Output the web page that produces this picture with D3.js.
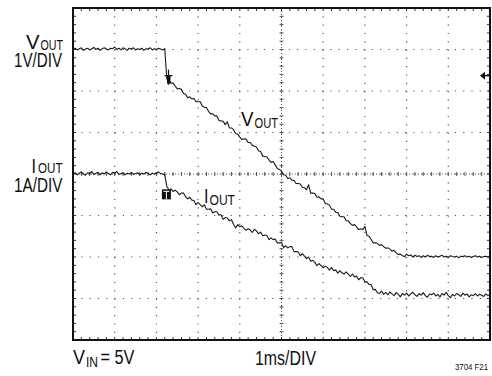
<!DOCTYPE html>
<html>
<head>
<meta charset="utf-8">
<script src="https://cdn.jsdelivr.net/npm/d3@7"></script>
<style>
  html, body { margin: 0; padding: 0; background: #fff; }
  svg { display: block; }
  text { font-family: "Liberation Sans", Arial, sans-serif; fill: #111; }
</style>
</head>
<body>
<svg id="scope" width="492" height="376"></svg>
<script>
// ---- scope settings ----
const timeDivisions = 10;        // 1ms/DIV
const verticalDivisions = 8;
const sampleStepMs = 0.05;       // record interval of both traces
const voltZeroDiv = 2;           // VOUT ground reference (division from bottom)
const ampZeroDiv = 1;            // IOUT ground reference (division from bottom)
const triggerLevelVolts = 4.37;  // level marker on right edge

// ---- VOUT record (V), one sample every 0.05ms from 0 to 10ms ----
const voutVolts = [
  // 0.00 - 2.20ms
  5.00,5.03,4.99,5.02,5.04,4.98,5.01,5.03,4.99,5.02,5.05,5.00,5.03,4.98,5.02,5.04,5.01,4.99,5.03,5.02,
  5.06,5.00,5.03,4.99,5.04,5.02,4.98,5.03,5.01,5.04,4.99,5.02,5.00,5.03,4.98,5.02,5.01,5.04,4.99,5.02,
  5.00,5.03,5.01,4.99,5.02,
  // 2.25ms
  4.29,
  // 2.30 - 7.90ms
  4.26,4.19,4.19,4.12,4.05,4.06,4.04,3.94,3.92,3.84,
  3.86,3.81,3.82,3.74,3.74,3.74,3.64,3.61,3.60,3.51,
  3.45,3.45,3.40,3.40,3.29,3.28,3.27,3.19,3.26,3.11,
  3.11,3.07,2.97,2.96,2.89,2.83,2.85,2.84,2.76,2.76,
  2.69,2.67,2.65,2.56,2.54,2.43,2.42,2.41,2.34,2.28,
  2.30,2.22,2.13,2.11,2.07,1.98,1.97,1.89,1.91,1.85,
  1.85,1.77,1.77,1.76,1.68,1.67,1.62,1.74,1.54,1.54,
  1.53,1.44,1.45,1.40,1.40,1.29,1.28,1.25,1.15,1.15,
  1.08,1.07,0.98,0.97,0.97,0.88,0.87,0.81,0.76,0.78,
  0.73,0.66,0.68,0.66,0.74,0.52,0.50,0.42,0.34,0.34,
  0.33,0.28,0.30,0.25,0.21,0.22,0.19,0.14,0.16,0.10,
  0.06,0.07,0.03,
  // 7.95 - 10.00ms
  0.01,0.07,0.03,0.05,0.00,0.04,0.01,0.03,-0.01,0.03,0.00,0.04,0.01,0.02,-0.01,0.03,0.00,0.02,0.04,0.00,
  0.02,-0.01,0.03,0.01,0.00,0.02,-0.02,0.02,0.01,0.03,0.00,0.02,-0.01,0.01,0.03,0.00,0.02,-0.01,0.01,0.02,
  0.00,0.01
];

// ---- IOUT record (A), one sample every 0.05ms from 0 to 10ms ----
const ioutAmps = [
  // 0.00 - 2.15ms
  3.00,3.03,2.98,3.02,3.05,3.00,2.97,3.03,3.01,3.06,2.99,3.02,3.04,2.98,3.03,3.00,3.05,3.01,2.98,3.04,
  3.02,3.06,2.99,3.01,3.03,2.98,3.02,3.00,3.04,2.99,3.01,3.03,2.98,3.02,3.00,3.04,3.01,2.98,3.02,3.00,
  3.03,3.05,3.01,3.00,
  // 2.20 - 2.35ms
  2.98,2.70,2.62,2.64,
  // 2.40 - 7.30ms
  2.58,2.61,2.57,2.50,2.54,2.54,2.45,2.40,2.44,2.37,
  2.36,2.26,2.31,2.26,2.21,2.26,2.15,2.15,2.16,2.06,
  2.09,2.09,2.01,2.02,1.91,1.95,1.94,1.87,1.90,1.79,
  1.70,1.78,1.73,1.75,1.69,1.64,1.68,1.65,1.59,1.67,
  1.63,1.56,1.60,1.51,1.53,1.52,1.42,1.46,1.42,1.43,
  1.34,1.34,1.35,1.23,1.27,1.22,1.25,1.25,1.13,1.13,
  1.12,1.03,1.08,1.02,0.96,1.00,0.90,0.92,0.87,0.79,
  0.84,0.79,0.74,0.78,0.75,0.68,0.75,0.67,0.69,0.61,
  0.67,0.62,0.59,0.64,0.59,0.53,0.59,0.52,0.54,0.45,
  0.50,0.50,0.40,0.40,0.34,0.33,0.21,0.22,0.14,
  // 7.35 - 10.00ms
  0.12,0.18,0.10,0.15,0.09,0.16,0.11,0.07,0.14,0.10,0.04,0.12,0.08,0.13,0.06,0.11,0.15,0.09,0.05,0.12,
  0.08,0.14,0.07,0.03,0.11,0.09,0.13,0.06,0.10,0.04,0.12,0.08,0.15,0.07,0.02,0.10,0.06,0.12,0.09,0.05,
  0.13,0.08,0.11,0.04,0.09,0.07,0.12,0.06,0.10,0.08,0.05,0.11,0.07,0.09
];

// ---- layout ----
const svg = d3.select("#scope");
const plot = { left: 73, right: 490, top: 8, bottom: 340 };

const x = d3.scaleLinear().domain([0, timeDivisions]).range([plot.left, plot.right]);
const yDiv = d3.scaleLinear().domain([0, verticalDivisions]).range([plot.bottom, plot.top]);
const yVolt = d3.scaleLinear().domain([-voltZeroDiv, verticalDivisions - voltZeroDiv]).range([plot.bottom, plot.top]);
const yAmp = d3.scaleLinear().domain([-ampZeroDiv, verticalDivisions - ampZeroDiv]).range([plot.bottom, plot.top]);

// ---- graticule ----
const grid = svg.append("g").attr("class", "graticule");
const minorX = d3.range(0, timeDivisions * 5 + 1).map(i => i / 5);
const minorY = d3.range(0, verticalDivisions * 5 + 1).map(i => i / 5);

// dotted division lines
grid.selectAll("line.vgrid").data(d3.range(1, timeDivisions)).join("line")
  .attr("x1", d => x(d)).attr("x2", d => x(d))
  .attr("y1", plot.top).attr("y2", plot.bottom)
  .attr("stroke", "#555").attr("stroke-width", 1.2)
  .attr("stroke-dasharray", "1.2,7.1");
grid.selectAll("line.hgrid").data(d3.range(1, verticalDivisions)).join("line")
  .attr("y1", d => yDiv(d)).attr("y2", d => yDiv(d))
  .attr("x1", plot.left).attr("x2", plot.right)
  .attr("stroke", "#555").attr("stroke-width", 1.2)
  .attr("stroke-dasharray", "1.2,7.1");

// centre axes: finer dots plus minor ticks
const cx = x(timeDivisions / 2), cy = yDiv(verticalDivisions / 2);
grid.append("line").attr("x1", cx).attr("x2", cx).attr("y1", plot.top).attr("y2", plot.bottom)
  .attr("stroke", "#555").attr("stroke-dasharray", "1,2");
grid.append("line").attr("y1", cy).attr("y2", cy).attr("x1", plot.left).attr("x2", plot.right)
  .attr("stroke", "#555").attr("stroke-dasharray", "1,2");
grid.selectAll("line.cxt").data(minorY).join("line")
  .attr("x1", cx - 2).attr("x2", cx + 2).attr("y1", d => yDiv(d)).attr("y2", d => yDiv(d))
  .attr("stroke", "#555");
grid.selectAll("line.cyt").data(minorX).join("line")
  .attr("y1", cy - 2).attr("y2", cy + 2).attr("x1", d => x(d)).attr("x2", d => x(d))
  .attr("stroke", "#555");

// edge ticks
grid.selectAll("line.bt").data(minorX).join("line")
  .attr("x1", d => x(d)).attr("x2", d => x(d)).attr("y1", plot.bottom).attr("y2", plot.bottom - 3)
  .attr("stroke", "#333");
grid.selectAll("line.tt").data(minorX).join("line")
  .attr("x1", d => x(d)).attr("x2", d => x(d)).attr("y1", plot.top).attr("y2", plot.top + 3)
  .attr("stroke", "#333");
grid.selectAll("line.lt").data(minorY).join("line")
  .attr("y1", d => yDiv(d)).attr("y2", d => yDiv(d)).attr("x1", plot.left).attr("x2", plot.left + 3)
  .attr("stroke", "#333");
grid.selectAll("line.rt").data(minorY).join("line")
  .attr("y1", d => yDiv(d)).attr("y2", d => yDiv(d)).attr("x1", plot.right).attr("x2", plot.right - 3)
  .attr("stroke", "#333");

// frame
svg.append("rect")
  .attr("x", plot.left).attr("y", plot.top)
  .attr("width", plot.right - plot.left).attr("height", plot.bottom - plot.top)
  .attr("fill", "none").attr("stroke", "#111").attr("stroke-width", 2);

// ---- traces ----
const voutLine = d3.line().x((d, i) => x(i * sampleStepMs)).y(d => yVolt(d));
const ioutLine = d3.line().x((d, i) => x(i * sampleStepMs)).y(d => yAmp(d));

svg.append("path").datum(voutVolts)
  .attr("d", voutLine).attr("fill", "none").attr("stroke", "#1a1a1a").attr("stroke-width", 1.1)
  .attr("stroke-linejoin", "round");
svg.append("path").datum(ioutAmps)
  .attr("d", ioutLine).attr("fill", "none").attr("stroke", "#1a1a1a").attr("stroke-width", 1.1)
  .attr("stroke-linejoin", "round");

// VOUT cursor cross
const crossT = 2.29, crossV = 4.37;
svg.append("line").attr("x1", x(crossT) - 4).attr("x2", x(crossT) + 4)
  .attr("y1", yVolt(crossV)).attr("y2", yVolt(crossV)).attr("stroke", "#111").attr("stroke-width", 1.2);
svg.append("line").attr("x1", x(crossT)).attr("x2", x(crossT))
  .attr("y1", yVolt(crossV) - 6).attr("y2", yVolt(crossV) + 9).attr("stroke", "#111").attr("stroke-width", 1.2);
svg.append("rect").attr("x", x(crossT) - 1.5).attr("y", yVolt(crossV))
  .attr("width", 3.5).attr("height", 8).attr("fill", "#111");

// IOUT trigger marker
const trigT = 2.24, trigA = 2.51;
const tx = x(trigT), ty = yAmp(trigA);
svg.append("rect").attr("x", tx - 4.5).attr("y", ty - 5).attr("width", 9).attr("height", 10).attr("fill", "#111");
svg.append("line").attr("x1", tx).attr("x2", tx).attr("y1", ty - 3).attr("y2", ty + 5)
  .attr("stroke", "#fff").attr("stroke-width", 1);
svg.append("line").attr("x1", tx - 3).attr("x2", tx + 3).attr("y1", ty - 3).attr("y2", ty - 3)
  .attr("stroke", "#fff").attr("stroke-width", 1);

// level arrow on right edge
const ay = yVolt(triggerLevelVolts);
svg.append("line").attr("x1", plot.right - 8).attr("x2", plot.right).attr("y1", ay).attr("y2", ay)
  .attr("stroke", "#111").attr("stroke-width", 1.5);
svg.append("path")
  .attr("d", `M${plot.right - 10},${ay} L${plot.right - 5},${ay - 4} L${plot.right - 5},${ay + 4} Z`)
  .attr("fill", "#111");

// ---- labels ----
function label(str, xPos, yPos, size, len, anchor) {
  return svg.append("text").attr("x", xPos).attr("y", yPos)
    .attr("font-size", size).attr("textLength", len).attr("lengthAdjust", "spacingAndGlyphs")
    .attr("text-anchor", anchor || "start")
    .text(str);
}
// channel labels
label("V", 26, 48.5, 20, 13.5);
label("OUT", 40.5, 49.5, 14.5, 22.5);
label("1V/DIV", 14, 66.5, 20, 48);
label("I", 31.5, 172.5, 20, 4.5);
label("OUT", 38, 173, 14.5, 24.5);
label("1A/DIV", 14, 191.5, 20, 48.5);
// trace labels
label("V", 241, 126, 20, 12.5);
label("OUT", 254.5, 127.5, 14.5, 23.5);
label("I", 204, 203, 20, 4.5);
label("OUT", 209.5, 204.5, 14.5, 25.5);
// footer
label("V", 73, 363.5, 20, 12);
label("IN", 86, 366.5, 14.5, 12);
label("= 5V", 100.5, 363.5, 20, 34);
label("1ms/DIV", 255, 365, 20, 61);
label("3704 F21", 488, 370, 9, 33, "end");
</script>
</body>
</html>
